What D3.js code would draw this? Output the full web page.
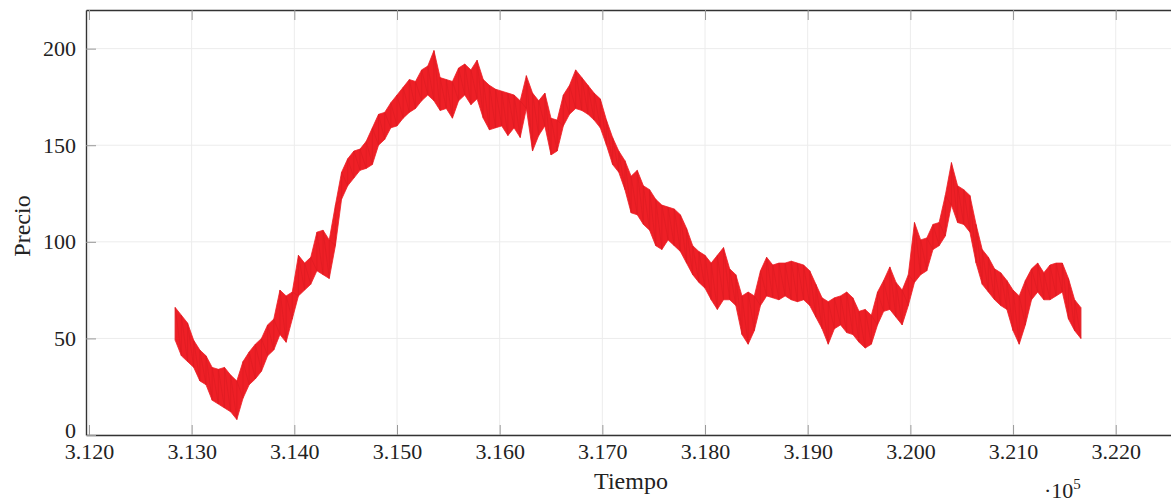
<!DOCTYPE html>
<html>
<head>
<meta charset="utf-8">
<script src="https://cdn.jsdelivr.net/npm/d3@7"></script>
<style>
  body { margin: 0; background: #fff; }
  text { font-family: "Liberation Serif", "DejaVu Serif", serif; fill: #222; }
</style>
</head>
<body>
<svg id="chart" width="1171" height="504"></svg>
<script>
// time stamps of each sample (one every 60 units)
const tiempo = [
  312840, 312900, 312960, 313020, 313080, 313140, 313200, 313260, 313320, 313380,
  313440, 313500, 313560, 313620, 313680, 313740, 313800, 313860, 313920, 313980,
  314040, 314100, 314160, 314220, 314280, 314340, 314400, 314460, 314520, 314580,
  314640, 314700, 314760, 314820, 314880, 314940, 315000, 315060, 315120, 315180,
  315240, 315300, 315360, 315420, 315480, 315540, 315600, 315660, 315720, 315780,
  315840, 315900, 315960, 316020, 316080, 316140, 316200, 316260, 316320, 316380,
  316440, 316500, 316560, 316620, 316680, 316740, 316800, 316860, 316920, 316980,
  317040, 317100, 317160, 317220, 317280, 317340, 317400, 317460, 317520, 317580,
  317640, 317700, 317760, 317820, 317880, 317940, 318000, 318060, 318120, 318180,
  318240, 318300, 318360, 318420, 318480, 318540, 318600, 318660, 318720, 318780,
  318840, 318900, 318960, 319020, 319080, 319140, 319200, 319260, 319320, 319380,
  319440, 319500, 319560, 319620, 319680, 319740, 319800, 319860, 319920, 319980,
  320040, 320100, 320160, 320220, 320280, 320340, 320400, 320460, 320520, 320580,
  320640, 320700, 320760, 320820, 320880, 320940, 321000, 321060, 321120, 321180,
  321240, 321300, 321360, 321420, 321480, 321540, 321600, 321660
];

// highest price seen in each sample window
const precioMax = [
  66, 62, 58, 49, 44, 41, 35, 34, 35, 31,
  28, 38, 43, 47, 50, 57, 60, 75, 72, 74,
  93, 89, 92, 105, 106, 101, 119, 136, 143, 147,
  148, 152, 159, 166, 167, 172, 176, 180, 184, 183,
  189, 191, 199, 185, 184, 183, 190, 192, 189, 194,
  184, 181, 179, 178, 177, 176, 173, 186, 177, 173,
  177, 164, 163, 176, 181, 189, 185, 181, 177, 174,
  163, 154, 147, 142, 134, 137, 129, 127, 122, 119,
  118, 117, 114, 107, 98, 95, 93, 89, 93, 97,
  86, 83, 72, 74, 72, 85, 92, 88, 89, 89,
  90, 89, 88, 85, 78, 71, 69, 71, 72, 74,
  71, 64, 65, 62, 74, 80, 87, 79, 75, 83,
  110, 101, 102, 109, 110, 124, 141, 129, 127, 124,
  109, 96, 92, 86, 84, 80, 75, 72, 80, 86,
  89, 84, 88, 89, 89, 81, 70, 66
];

// lowest price seen in each sample window
const precioMin = [
  49, 41, 38, 35, 28, 26, 18, 16, 14, 12,
  8, 19, 26, 29, 33, 41, 44, 52, 48, 60,
  72, 75, 78, 85, 83, 81, 98, 122, 129, 133,
  137, 138, 140, 150, 153, 159, 160, 164, 167, 169,
  173, 176, 173, 168, 169, 164, 173, 176, 171, 174,
  164, 158, 159, 160, 155, 159, 154, 169, 147, 155,
  160, 145, 147, 160, 166, 169, 168, 166, 163, 159,
  150, 140, 136, 127, 115, 114, 109, 106, 98, 96,
  101, 98, 95, 89, 83, 79, 76, 70, 65, 70,
  70, 67, 52, 47, 54, 67, 72, 71, 70, 72,
  70, 69, 70, 67, 61, 55, 47, 55, 57, 53,
  52, 48, 45, 47, 57, 64, 65, 61, 57, 67,
  79, 83, 85, 96, 98, 103, 119, 110, 109, 105,
  89, 78, 74, 70, 67, 65, 54, 47, 57, 70,
  74, 70, 70, 72, 74, 60, 54, 50
];

const xTicks = [312000, 313000, 314000, 315000, 316000, 317000, 318000, 319000, 320000, 321000, 322000];
const yTicks = [0, 50, 100, 150, 200];
const xLimits = [311971, 322626];
const yLimits = [0, 220];

const svg = d3.select('#chart');
const plotLeft = 86, plotRight = 1180, plotTop = 10, plotBottom = 435;

const xScale = d3.scaleLinear().domain(xLimits).range([plotLeft, plotRight]);
const yScale = d3.scaleLinear().domain(yLimits).range([plotBottom, plotTop]);

// grid
const grid = svg.append('g').attr('class', 'grid');
grid.selectAll('line.vgrid')
    .data(xTicks)
    .enter()
    .append('line')
        .attr('class', 'vgrid')
        .attr('x1', d => xScale(d)).attr('x2', d => xScale(d))
        .attr('y1', plotTop).attr('y2', plotBottom)
        .attr('stroke', '#ececec')
        .attr('stroke-width', 1);
grid.selectAll('line.hgrid')
    .data(yTicks)
    .enter()
    .append('line')
        .attr('class', 'hgrid')
        .attr('x1', plotLeft).attr('x2', plotRight)
        .attr('y1', d => yScale(d)).attr('y2', d => yScale(d))
        .attr('stroke', '#ececec')
        .attr('stroke-width', 1);

// series: solid band between min and max, then a zigzag through both for the noisy edges
const serie = tiempo.map((t, i) => ({ t: t, max: precioMax[i], min: precioMin[i] }));

const band = d3.area()
    .x(d => xScale(d.t))
    .y0(d => yScale(d.min))
    .y1(d => yScale(d.max));

svg.append('path')
    .datum(serie)
    .attr('d', band)
    .attr('fill', '#ee1f26')
    .attr('stroke', '#ee1f26')
    .attr('stroke-width', 0.8);

const puntos = serie.flatMap(d => [[d.t, d.min], [d.t, d.max]]);
const zigzag = d3.line()
    .x(d => xScale(d[0]))
    .y(d => yScale(d[1]));

svg.append('path')
    .datum(puntos)
    .attr('d', zigzag)
    .attr('fill', 'none')
    .attr('stroke', '#dc1a21')
    .attr('stroke-width', 1)
    .attr('stroke-opacity', 0.6);

// axes, ticks pointing inward like pgfplots
const styleAxis = (g) => {
    g.select('.domain').attr('stroke', '#333').attr('stroke-width', 1.4);
    g.selectAll('.tick line').attr('stroke', '#999').attr('stroke-width', 1);
    g.selectAll('text')
        .attr('font-family', '"Liberation Serif", "DejaVu Serif", serif')
        .attr('font-size', 22)
        .attr('fill', '#222');
};

const xAxisG = svg.append('g')
    .attr('transform', 'translate(0,' + plotBottom + ')')
    .call(d3.axisBottom(xScale).tickValues(xTicks)
        .tickSizeInner(-10).tickSizeOuter(0).tickPadding(8)
        .tickFormat(d => (d / 1e5).toFixed(3)));
styleAxis(xAxisG);

const topAxisG = svg.append('g')
    .attr('transform', 'translate(0,' + plotTop + ')')
    .call(d3.axisTop(xScale).tickValues(xTicks)
        .tickSizeInner(-10).tickSizeOuter(0).tickFormat(''));
styleAxis(topAxisG);

const yAxisG = svg.append('g')
    .attr('transform', 'translate(' + plotLeft + ',0)')
    .call(d3.axisLeft(yScale).tickValues(yTicks)
        .tickSizeInner(-10).tickSizeOuter(0).tickPadding(10));
styleAxis(yAxisG);
// the "0" sits a touch higher in the reference, just above the 3.120 label
yAxisG.selectAll('.tick text').filter(d => d === 0).attr('dy', '0.1em');

// labels
svg.append('text')
    .attr('transform', 'translate(30,226) rotate(-90)')
    .attr('text-anchor', 'middle')
    .attr('font-size', 24)
    .text('Precio');

svg.append('text')
    .attr('x', 631).attr('y', 489)
    .attr('text-anchor', 'middle')
    .attr('font-size', 24)
    .text('Tiempo');

const expo = svg.append('text')
    .attr('x', 1044).attr('y', 498)
    .attr('font-size', 22)
    .text('·10');
expo.append('tspan')
    .attr('dy', -9)
    .attr('font-size', 15)
    .text('5');
</script>
</body>
</html>
